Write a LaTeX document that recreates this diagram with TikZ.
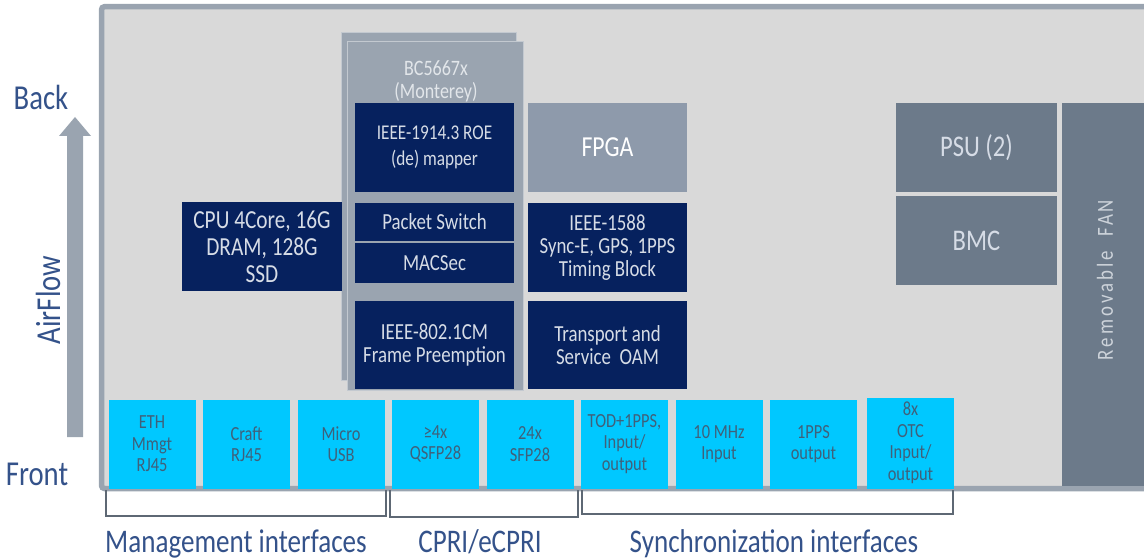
\documentclass[tikz,border=0pt]{standalone}
\usepackage{fontspec}
\setmainfont{Carlito}[FakeStretch=0.82]
\usetikzlibrary{positioning}
\definecolor{edgecol}{HTML}{9AA4B0}
\definecolor{chassisfill}{HTML}{D9D9D9}
\definecolor{bcfill}{HTML}{9AA4B0}
\definecolor{bcedge}{HTML}{C3C9D0}
\definecolor{bctext}{HTML}{E2E6EA}
\definecolor{navyfill}{HTML}{06215E}
\definecolor{navytext}{HTML}{D6DCE6}
\definecolor{fpgafill}{HTML}{8E9AAB}
\definecolor{darkfill}{HTML}{6C7A8A}
\definecolor{fantext}{HTML}{CDD3DA}
\definecolor{portfill}{HTML}{00C8FF}
\definecolor{porttext}{HTML}{40607A}
\definecolor{labelcol}{HTML}{34528A}
\definecolor{bracketcol}{HTML}{5E6874}
\begin{document}
\begin{tikzpicture}[x=1pt, y=-1pt,
    box/.style={inner sep=0pt, outer sep=0pt, align=center, minimum width=159pt, minimum height=89pt},
    navybox/.style={box, fill=navyfill, text=navytext, font=\fontsize{23}{23}\selectfont},
    greybox/.style={box, fill=darkfill, text=navytext, minimum width=161pt, font=\fontsize{30}{30}\selectfont},
    portbox/.style={box, fill=portfill, text=porttext, minimum width=87pt, font=\fontsize{20}{21.5}\selectfont},
    bracket/.style={draw=bracketcol, line width=1.2pt},
    caption/.style={text=labelcol, anchor=base, font=\fontsize{33}{33}\selectfont}]

    \useasboundingbox (0,0) rectangle (1144,559);

    % chassis
    \draw[line width=5.5pt, draw=edgecol, fill=chassisfill, rounded corners=3pt] (101.5,6.7) rectangle (1170,488.5);

    % switch chip
    \node[box, fill=bcfill, draw=bcedge, line width=1pt, minimum width=175pt, minimum height=347pt] (bcback) at (428.5,206.5) {};
    \node[box, fill=bcfill, draw=bcedge, line width=1pt, minimum width=176pt, minimum height=348pt] (bc) at (435,216) {};
    \node[text=bctext, align=center, font=\fontsize{22}{22.7}\selectfont] (bcname) at (436,81) {BC5667x\\(Monterey)};

    \node[navybox, font=\fontsize{21}{25.5}\selectfont] (roe) at (434.5,147.5) {IEEE-1914.3 ROE\\(de) mapper};
    \node[navybox, minimum height=38pt, below=11pt of roe] (switch) {Packet Switch};
    \node[navybox, minimum height=40pt, below=2pt of switch] (macsec) {MACSec};
    \node[navybox, minimum height=88pt] (cm) at (434.5,345) {IEEE-802.1CM\\Frame Preemption};

    \node[box, fill=fpgafill, text=white, right=14pt of roe, font=\fontsize{29}{29}\selectfont] (fpga) {FPGA};
    \node[navybox, below=11pt of fpga] (timing) {IEEE-1588\\Sync-E, GPS, 1PPS\\Timing Block};
    \node[navybox, minimum height=88pt, right=14pt of cm] (oam) {Transport and\\Service~ OAM};

    \node[navybox, minimum width=160pt, font=\fontsize{26}{27}\selectfont] (cpu) at (262,246.5) {CPU 4Core, 16G\\DRAM, 128G\\SSD};

    \node[greybox] (psu) at (976.5,147.5) {PSU (2)};
    \node[greybox, below=4pt of psu] (bmc) {BMC};
    \node[box, fill=darkfill, minimum width=88pt, minimum height=383pt] (fan) at (1106,294.5) {};
    \node[rotate=90, text=fantext, font=\fontsize{23}{23}\selectfont\addfontfeature{LetterSpace=13}] (fanname) at (1105,280) {Removable~ FAN};

    % front ports
    \node[portbox] (eth) at (152,444) {ETH\\Mmgt\\RJ45};
    \node[portbox, right=7.5pt of eth] (craft) {Craft\\RJ45};
    \node[portbox, right=7.5pt of craft] (usb) {Micro\\USB};
    \node[portbox, right=7.5pt of usb] (qsfp) {≥4x\\QSFP28};
    \node[portbox, right=7.5pt of qsfp] (sfp) {24x\\SFP28};
    \node[portbox, right=7.5pt of sfp] (tod) {TOD+1PPS,\\Input/\\output};
    \node[portbox, right=7.5pt of tod] (mhz) {10 MHz\\Input};
    \node[portbox, right=7.5pt of mhz] (pps) {1PPS\\output};
    \node[portbox, minimum height=91pt, right=10pt of pps, yshift=1pt] (otc) {8x\\OTC\\Input/\\output};

    % groups
    \draw[bracket] (106,490) -- (106,516) -- (386,516) -- (386,490);
    \draw[bracket] (390,490) -- (390,517) -- (578,517) -- (578,490);
    \draw[bracket] (582,490) -- (582,514) -- (953,514) -- (953,490);
    \node[caption] (mgmt) at (236,552) {Management interfaces};
    \node[caption] (cpri) at (480,552) {CPRI/eCPRI};
    \node[caption] (synch) at (774,552) {Synchronization interfaces};

    % airflow
    \fill[edgecol] (67,437) -- (67,136) -- (59,136) -- (75,117) -- (91,136) -- (83,136) -- (83,437) -- cycle;
    \node[caption, font=\fontsize{35}{35}\selectfont] (back) at (41,110) {Back};
    \node[caption, font=\fontsize{35}{35}\selectfont] (front) at (37,485) {Front};
    \node[caption, rotate=90, font=\fontsize{35}{35}\selectfont] (air) at (60,300) {AirFlow};

  \end{tikzpicture}
\end{document}
